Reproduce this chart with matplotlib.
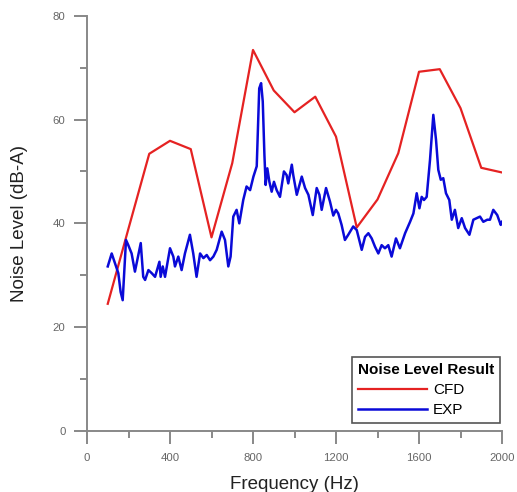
import matplotlib
matplotlib.use("Agg")
import matplotlib.pyplot as plt
from matplotlib.ticker import MultipleLocator

plt.rcParams['font.family'] = ['Liberation Sans', 'DejaVu Sans']

cfd_freq = [100, 200, 300, 400, 500, 600, 700, 800, 900, 1000, 1100, 1200,
            1300, 1400, 1500, 1600, 1700, 1800, 1900, 2000]
cfd_level = [24.5, 39.0, 53.4, 55.9, 54.3, 37.3, 51.6, 73.4, 65.6, 61.4, 64.4, 56.7,
             39.2, 44.6, 53.5, 69.2, 69.7, 62.2, 50.7, 49.8]

exp_freq = [100, 119, 135, 151, 162, 172, 188, 199, 215, 231, 259, 271, 280, 296,
            312, 328, 349, 355, 365, 376, 400, 416, 424, 440, 456, 472, 496, 512,
            528, 545, 561, 577, 593, 609, 625, 649, 665, 681, 692, 705, 721, 734,
            753, 769, 786, 802, 818, 830, 839, 847, 855, 861, 869, 879, 890, 901,
            914, 930, 949, 962, 970, 987, 994, 1011, 1035, 1051, 1067, 1088, 1107,
            1120, 1131, 1152, 1171, 1187, 1200, 1211, 1227, 1243, 1259, 1283, 1300,
            1324, 1340, 1356, 1372, 1388, 1404, 1420, 1436, 1452, 1468, 1489, 1508,
            1533, 1557, 1573, 1589, 1602, 1613, 1624, 1637, 1653, 1669, 1682, 1693,
            1705, 1717, 1730, 1746, 1758, 1773, 1789, 1806, 1822, 1843, 1862, 1878,
            1894, 1910, 1929, 1942, 1958, 1977, 1994, 2000]
exp_level = [31.7, 34.2, 32.3, 30.4, 26.8, 25.2, 36.8, 35.8, 34.2, 30.7, 36.2, 29.7,
             29.1, 31.0, 30.4, 29.7, 32.6, 29.7, 31.7, 29.7, 35.2, 33.6, 31.7, 33.6,
             31.0, 34.2, 37.8, 34.2, 29.7, 34.2, 33.3, 33.9, 32.9, 33.6, 34.9, 38.4,
             36.8, 31.7, 33.6, 41.3, 42.6, 40.0, 44.5, 47.1, 46.4, 49.0, 51.0, 66.0,
             67.0, 63.5, 53.2, 47.4, 50.6, 48.0, 46.1, 48.0, 46.4, 45.1, 50.0, 49.3,
             47.7, 51.3, 49.3, 45.5, 49.0, 46.8, 45.5, 41.6, 46.8, 45.5, 42.6, 46.8,
             44.2, 41.5, 42.6, 41.9, 39.7, 36.8, 37.8, 39.4, 38.7, 34.9, 37.4, 38.1,
             37.1, 35.5, 34.2, 35.8, 35.2, 35.8, 33.6, 37.1, 35.2, 38.1, 40.3, 41.9,
             45.8, 42.9, 45.1, 44.5, 45.1, 52.2, 60.9, 56.1, 50.3, 48.4, 48.7, 45.8,
             44.5, 40.7, 42.6, 39.1, 41.0, 39.1, 37.8, 40.7, 41.0, 41.3, 40.3, 40.7,
             40.7, 42.6, 41.6, 39.7, 40.3]

fig = plt.figure(figsize=(5.17, 4.92), dpi=100)
ax = fig.add_axes([87/517, 61/492, 415/517, 415.3/492])

ax.plot(cfd_freq, cfd_level, color='#e52222', lw=1.6, label='CFD')
ax.plot(exp_freq, exp_level, color='#0a0ad8', lw=1.8, label='EXP')

ax.set_xlim(0, 2000)
ax.set_ylim(0, 80)
ax.xaxis.set_major_locator(MultipleLocator(400))
ax.xaxis.set_minor_locator(MultipleLocator(200))
ax.yaxis.set_major_locator(MultipleLocator(20))
ax.yaxis.set_minor_locator(MultipleLocator(10))

for s in ['top', 'right']:
    ax.spines[s].set_visible(False)
for s in ['left', 'bottom']:
    ax.spines[s].set_color('#888888')
    ax.spines[s].set_linewidth(1.4)

ax.tick_params(which='major', direction='out', length=9.5, width=1.4,
               color='#888888', labelcolor='#666666', labelsize=8.2, pad=6)
ax.tick_params(which='minor', direction='out', length=5, width=1.4,
               color='#888888')

ax.set_xlabel('Frequency (Hz)', fontsize=13.5, color='#222222', labelpad=10)
ax.set_ylabel('Noise Level (dB-A)', fontsize=13.5, color='#222222', labelpad=18)

leg = ax.legend(loc='upper left', bbox_to_anchor=(352/517, 1 - 357/492),
                bbox_transform=fig.transFigure, borderaxespad=0,
                title='Noise Level Result', fontsize=11,
                title_fontproperties={'weight': 'bold', 'size': 11},
                handlelength=4.5, handletextpad=0.4, fancybox=False,
                framealpha=1, edgecolor='#555555', borderpad=0.4,
                labelspacing=0.4, alignment='left')
leg.get_frame().set_linewidth(1.2)

fig.savefig('out.png', dpi=100)
